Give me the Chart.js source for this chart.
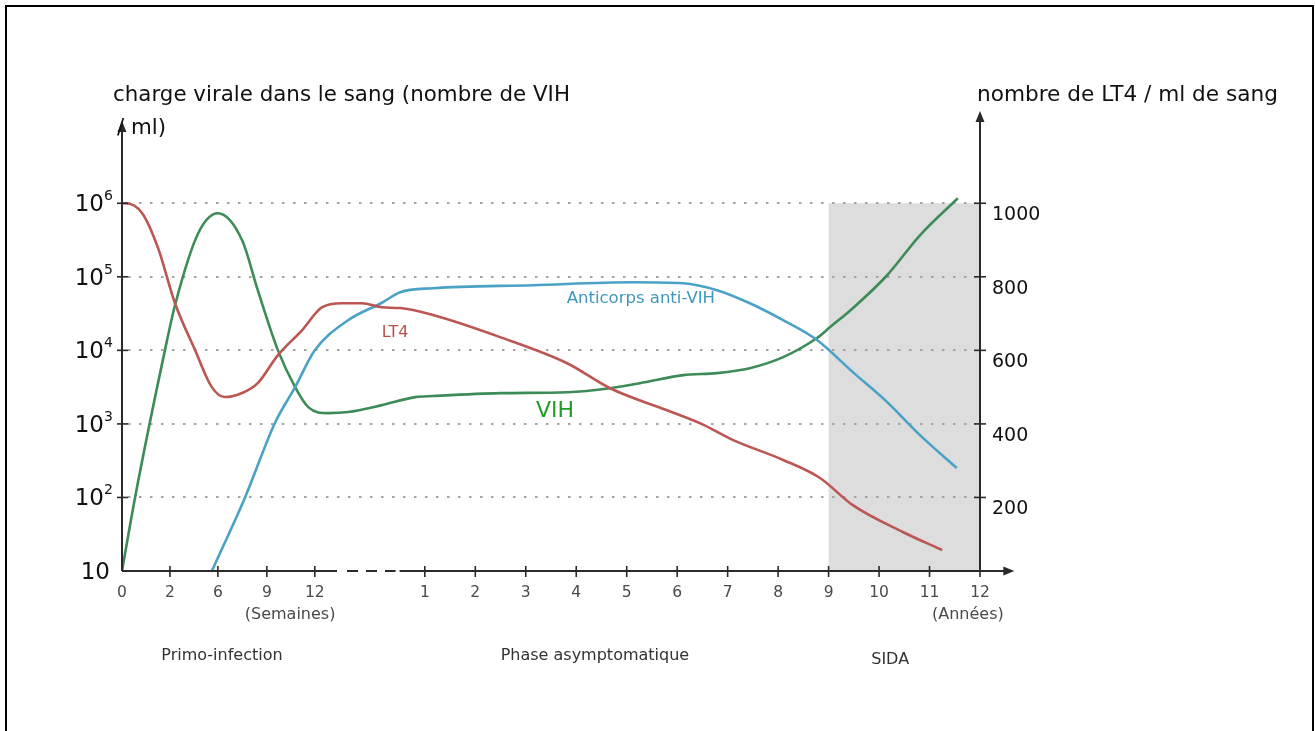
<!DOCTYPE html>
<html><head><meta charset="utf-8">
<script src="https://cdn.jsdelivr.net/npm/chart.js@4.4.1/dist/chart.umd.min.js"></script>
<style>html,body{margin:0;padding:0;background:#fff;overflow:hidden}</style>
</head><body>
<canvas id="c" width="1315" height="731"></canvas>
<script>
// ---- axis description (time axis: weeks, break, then years) ----
const xTickPos = [-5, -4.05, -3.1, -2.13, -1.18, 1, 2, 3, 4, 5, 6, 7, 8, 9, 10, 11, 12];
const xTickLabels = ['0','2','6','9','12','1','2','3','4','5','6','7','8','9','10','11','12'];
const unitLabels = ['(Semaines)', '(Années)'];
const unitLabelPos = [-1.67, 11.76];
const phaseLabels = ['Primo-infection', 'Phase asymptomatique', 'SIDA'];
const phasePos = [-3.02, 4.37, 10.22];
const sidaRange = [9, 12];

const leftTicks = [10, 100, 1000, 10000, 100000, 1000000];
const leftTickBase = ['10', '10', '10', '10', '10', '10'];
const leftTickExp = ['', '2', '3', '4', '5', '6'];
const rightTicks = [200, 400, 600, 800, 1000];

const leftTitle1 = 'charge virale dans le sang (nombre de VIH';
const leftTitle2 = '/ ml)';
const rightTitle = 'nombre de LT4 / ml de sang';

// ---- series ----
const vihX = [-5, -4.74, -4.15, -3.95, -3.49, -3.10, -2.62, -2.31, -1.91, -1.57, -1.31, -0.92, -0.52, 0.15, 0.81, 1.16, 2.49, 3.82, 4.67, 5.26, 6.12, 6.79, 7.44, 8.10, 8.77, 9.03, 9.48, 10.16, 10.81, 11.56];
const vihY = [10, 101, 10000, 41100, 391000, 731000, 314000, 65800, 10000, 3160, 1690, 1400, 1450, 1800, 2310, 2390, 2620, 2700, 3060, 3580, 4600, 4900, 5730, 8090, 14700, 20700, 37400, 105000, 367000, 1170000];

const antiX = [-3.22, -2.56, -1.97, -1.57, -1.18, -0.52, 0.15, 0.51, 1.16, 3.14, 5.12, 6.12, 6.79, 7.44, 8.10, 8.77, 9.48, 10.16, 10.81, 11.54];
const antiY = [10, 101, 1030, 3160, 10000, 25700, 44400, 61800, 70000, 76900, 84500, 81900, 65800, 43700, 25700, 13800, 5060, 1980, 705, 251];

const lt4X = [-5, -4.94, -4.60, -4.29, -3.95, -3.55, -3.22, -2.96, -2.62, -2.31, -1.91, -1.43, -1.04, -0.64, -0.24, 0.15, 0.51, 1.16, 2.49, 3.82, 4.67, 5.80, 6.45, 7.11, 8.10, 8.83, 9.48, 10.47, 11.25];
const lt4Y = [1000, 1000, 973, 880, 728, 600, 500, 473, 484, 511, 587, 655, 717, 728, 728, 717, 715, 696, 636, 565, 497, 437, 402, 356, 302, 253, 179, 106, 57];

// in-chart labels (placed in data coordinates of the left axis)
const annoTexts = ['LT4', 'Anticorps anti-VIH', 'VIH'];
const annoX = [0.41, 5.28, 3.58];
const annoY = [17100, 49700, 1490];

// ---- styles ----
const C_VIH = '#3d8c58', C_ANTI = '#4ba2c6', C_LT4 = '#bb5653';
const annoColors = ['#b5504d', '#3f97bb', '#1f9e26'];
const annoFonts = ['16px "DejaVu Sans"', '16.5px "DejaVu Sans"', '22px "DejaVu Sans"'];

function pts(xs, ys) { return xs.map((x, i) => ({x, y: ys[i]})); }

function fitFont(ctx, text, family, targetW, base) {
  ctx.font = base + 'px "' + family + '"';
  const w = ctx.measureText(text).width;
  return base * targetW / w;
}

const deco = {
  id: 'deco',
  beforeDatasetsDraw(chart) {
    const {ctx, chartArea: a, scales: {x, y}} = chart;
    ctx.save();
    // frame
    ctx.strokeStyle = '#000'; ctx.lineWidth = 2;
    ctx.beginPath(); ctx.moveTo(6, 740); ctx.lineTo(6, 6); ctx.lineTo(1313, 6); ctx.lineTo(1313, 740); ctx.stroke();
    // SIDA shading
    const x0 = x.getPixelForValue(sidaRange[0]), x1 = x.getPixelForValue(sidaRange[1]);
    const yt = y.getPixelForValue(1e6);
    ctx.fillStyle = '#dddddd';
    ctx.fillRect(x0, yt, x1 - x0, a.bottom - yt);
    // dotted grid lines
    ctx.strokeStyle = '#a3a3a3'; ctx.lineWidth = 2; ctx.setLineDash([2.5, 8.5]);
    leftTicks.slice(1).forEach(v => {
      const py = Math.round(y.getPixelForValue(v));
      ctx.beginPath(); ctx.moveTo(a.left + 6, py); ctx.lineTo(x1 - 4, py); ctx.stroke();
    });
    ctx.restore();
  },
  afterDatasetsDraw(chart) {
    const {ctx, chartArea: a, scales: {x, y}} = chart;
    ctx.save();
    const axisCol = '#2a2a2a';
    ctx.strokeStyle = axisCol; ctx.fillStyle = axisCol; ctx.lineWidth = 2;
    const arrowUp = (px, tip) => { ctx.beginPath(); ctx.moveTo(px, tip); ctx.lineTo(px - 4.5, tip + 11); ctx.lineTo(px + 4.5, tip + 11); ctx.closePath(); ctx.fill(); };
    const line = (x1, y1, x2, y2) => { ctx.beginPath(); ctx.moveTo(x1, y1); ctx.lineTo(x2, y2); ctx.stroke(); };
    // left axis
    line(a.left, a.bottom, a.left, a.top + 14); arrowUp(a.left, a.top + 6);
    // right axis
    const xr = x.getPixelForValue(12);
    line(xr, a.bottom, xr, a.top + 2); arrowUp(xr, a.top - 4);
    // x axis with break
    const b0 = x.getPixelForValue(-0.74), b1 = x.getPixelForValue(0.5);
    line(a.left, a.bottom, b0, a.bottom);
    ctx.setLineDash([11, 8]); line(b0 + 10, a.bottom, b1 - 4, a.bottom); ctx.setLineDash([]);
    const tipX = x.getPixelForValue(12.68);
    line(b1, a.bottom, tipX - 8, a.bottom);
    ctx.beginPath(); ctx.moveTo(tipX, a.bottom); ctx.lineTo(tipX - 11, a.bottom - 4.5); ctx.lineTo(tipX - 11, a.bottom + 4.5); ctx.closePath(); ctx.fill();
    // tick marks
    ctx.lineWidth = 1.6;
    xTickPos.slice(1).forEach(v => { const px = x.getPixelForValue(v); line(px, a.bottom - 5, px, a.bottom + 6); });
    leftTicks.slice(1).forEach(v => { const py = y.getPixelForValue(v); line(a.left - 5, py, a.left + 6, py); line(xr - 6, py, xr + 6, py); });

    // left tick labels: 10 with superscript exponent
    ctx.fillStyle = '#111'; ctx.textBaseline = 'alphabetic';
    leftTicks.forEach((v, i) => {
      const py = y.getPixelForValue(v);
      const e = leftTickExp[i];
      ctx.font = '23px "DejaVu Sans"';
      ctx.textAlign = 'right';
      const baseRight = e ? 104 : 110;
      ctx.fillText(leftTickBase[i], baseRight, py + 8);
      if (e) {
        ctx.font = '14px "DejaVu Sans"'; ctx.textAlign = 'left';
        ctx.fillText(e, baseRight, py - 3);
      }
    });

    // in-chart labels
    ctx.textAlign = 'center'; ctx.textBaseline = 'middle';
    annoTexts.forEach((t, i) => {
      ctx.font = annoFonts[i]; ctx.fillStyle = annoColors[i];
      ctx.fillText(t, x.getPixelForValue(annoX[i]), y.getPixelForValue(annoY[i]));
    });

    // unit labels & phase labels
    ctx.fillStyle = '#4a4a4a'; ctx.font = '16px "DejaVu Sans"';
    unitLabels.forEach((t, i) => ctx.fillText(t, x.getPixelForValue(unitLabelPos[i]), a.bottom + 44));
    ctx.fillStyle = '#333'; ctx.font = '16px "DejaVu Sans"';
    phaseLabels.forEach((t, i) => ctx.fillText(t, x.getPixelForValue(phasePos[i]), a.bottom + 85 + (i === 2 ? 4 : 0)));

    // axis titles
    ctx.fillStyle = '#111'; ctx.textAlign = 'left';
    const s1 = fitFont(ctx, leftTitle1, 'DejaVu Sans', 457, 18);
    ctx.font = s1.toFixed(2) + 'px "DejaVu Sans"';
    ctx.fillText(leftTitle1, 113, 95);
    ctx.fillText(leftTitle2, 117, 128);
    const s2 = fitFont(ctx, rightTitle, 'DejaVu Sans', 301, 18);
    ctx.font = s2.toFixed(2) + 'px "DejaVu Sans"';
    ctx.fillText(rightTitle, 977, 95);
    ctx.restore();
  }
};

const ds = (label, xs, ys, color, axis) => ({
  label, data: pts(xs, ys), yAxisID: axis, borderColor: color, borderWidth: 2.6,
  pointRadius: 0, fill: false, cubicInterpolationMode: 'monotone'
});

new Chart(document.getElementById('c'), {
  type: 'line',
  data: { datasets: [
    ds('LT4', lt4X, lt4Y, C_LT4, 'y2'),
    ds('Anticorps anti-VIH', antiX, antiY, C_ANTI, 'y'),
    ds('VIH', vihX, vihY, C_VIH, 'y')
  ]},
  options: {
    responsive: false, animation: false, devicePixelRatio: 1,
    layout: { padding: { top: 115, left: 0, right: 0, bottom: 0 } },
    plugins: { legend: { display: false }, tooltip: { enabled: false } },
    scales: {
      x: {
        type: 'linear', min: -5, max: 12,
        afterFit(s) { s.height = 160; },
        afterBuildTicks(s) { s.ticks = xTickPos.map(v => ({value: v})); },
        ticks: { autoSkip: false, maxRotation: 0, padding: 5, color: '#4a4a4a',
                 font: { family: 'DejaVu Sans', size: 15.5 },
                 callback: (v, i) => xTickLabels[i] },
        grid: { display: false }, border: { display: false }
      },
      y: {
        type: 'logarithmic', position: 'left', min: 10, max: Math.pow(10, 7.2),
        afterFit(s) { s.width = 122; },
        afterBuildTicks(s) { s.ticks = leftTicks.map(v => ({value: v})); },
        ticks: { display: false },
        grid: { display: false }, border: { display: false }
      },
      y2: {
        type: 'linear', position: 'right', min: 0, max: 1240,
        afterFit(s) { s.width = 335; },
        afterBuildTicks(s) { s.ticks = rightTicks.map(v => ({value: v})); },
        ticks: { padding: 4, labelOffset: 12, crossAlign: 'near', color: '#111',
                 font: { family: 'DejaVu Sans', size: 19 },
                 callback: v => String(v) },
        grid: { display: false }, border: { display: false }
      }
    }
  },
  plugins: [deco]
});
</script>
</body></html>
